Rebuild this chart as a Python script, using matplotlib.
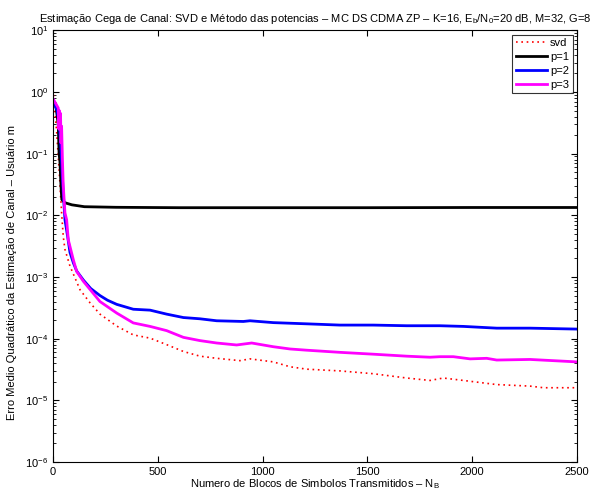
import matplotlib
matplotlib.use('Agg')
from matplotlib import pyplot as plt
import numpy as np

plt.rcParams['font.family'] = ['Liberation Sans', 'DejaVu Sans']
plt.rcParams['mathtext.fontset'] = 'custom'
plt.rcParams['mathtext.rm'] = 'Liberation Sans'
plt.rcParams['mathtext.default'] = 'regular'
plt.rcParams['font.size'] = 8

# curvas (NB, erro quadratico medio)
svd_x = [0, 10, 18, 30, 41, 49, 57, 81, 129, 177, 224, 304, 383, 463, 542, 622, 701,
         781, 892, 940, 1051, 1131, 1210, 1369, 1528, 1687, 1799, 1862, 1958, 2117,
         2276, 2340, 2500]
svd_y = [1.1, 0.46, 0.21, 0.05, 0.011, 0.0045, 0.0028, 0.0015, 0.00062, 0.00038,
         0.00025, 0.00016, 0.000115, 0.000102, 0.00008, 0.000062, 0.000052, 0.000048,
         0.000044, 0.000047, 0.000042, 0.000035, 0.000032, 0.00003, 0.000027,
         0.000023, 0.000021, 0.000023, 0.000021, 0.000018, 0.000017, 0.000016, 0.000016]

p1_x = [0, 15, 25, 29, 33, 38, 42, 57, 90, 150, 300, 600, 1000, 1500, 2000, 2500]
p1_y = [0.75, 0.55, 0.3, 0.1, 0.075, 0.03, 0.018, 0.016, 0.0148, 0.0138, 0.0135,
        0.0133, 0.0133, 0.0133, 0.0134, 0.0134]

p2_x = [0, 20, 30, 38, 45, 50, 57, 70, 81, 97, 113, 145, 180, 224, 260, 304, 383,
        463, 542, 622, 701, 781, 908, 940, 1051, 1210, 1369, 1528, 1687, 1846, 1958,
        2117, 2276, 2500]
p2_y = [0.72, 0.5, 0.3, 0.12, 0.04, 0.02, 0.0085, 0.0045, 0.0025, 0.0017, 0.00125,
        0.00089, 0.00065, 0.0005, 0.00042, 0.00036, 0.0003, 0.00029, 0.00025, 0.00022,
        0.00021, 0.000195, 0.00019, 0.000195, 0.000182, 0.000174, 0.000166, 0.000166,
        0.000162, 0.000162, 0.000158, 0.000148, 0.000148, 0.000143]

p3_x = [0, 25, 28, 30, 33, 36, 38, 41, 45, 49, 57, 65, 73, 97, 113, 145, 224, 304,
        383, 463, 542, 622, 701, 781, 876, 948, 1051, 1131, 1210, 1369, 1528, 1687,
        1799, 1846, 1910, 1990, 2069, 2117, 2276, 2500]
p3_y = [0.78, 0.55, 0.25, 0.5, 0.3, 0.45, 0.15, 0.28, 0.08, 0.03, 0.011, 0.0085,
        0.004, 0.0019, 0.00123, 0.00085, 0.0004, 0.00026, 0.00018, 0.000158, 0.000135,
        0.000105, 0.000093, 0.000085, 0.000079, 0.000085, 0.000074, 0.000068, 0.000065,
        0.00006, 0.000056, 0.000052, 0.00005, 0.000051, 0.000051, 0.000047, 0.000048,
        0.000045, 0.000046, 0.000042]

fig = plt.figure(figsize=(6.03, 4.95), dpi=100)
ax = fig.add_axes([0.0879, 0.0667, 0.869, 0.872])

ax.semilogy(svd_x, svd_y, linestyle=(0, (1, 2.2)), color='red', lw=1.2, label='svd')
ax.semilogy(p1_x, p1_y, '-', color='black', lw=2, label='p=1')
ax.semilogy(p2_x, p2_y, '-', color='blue', lw=2, label='p=2')
ax.semilogy(p3_x, p3_y, '-', color='magenta', lw=2, label='p=3')

ax.set_xlim(0, 2500)
ax.set_ylim(1e-6, 1e1)
ax.set_xticks([0, 500, 1000, 1500, 2000, 2500])
ax.tick_params(which='both', direction='in', top=True, right=True)
ax.tick_params(which='major', length=4)
ax.tick_params(which='minor', length=2)

ax.set_title('Estimação Cega de Canal: SVD e Método das potencias – MC DS CDMA ZP – '
             'K=16, E$_b$/N$_0$=20 dB, M=32, G=8', fontsize=8)
ax.set_xlabel('Numero de Blocos de Simbolos Transmitidos – N$_B$', labelpad=0)
ax.set_ylabel('Erro Medio Quadrático da Estimação de Canal – Usuário m')
ax.yaxis.set_label_coords(-0.068, 0.44)

leg = ax.legend(loc='upper right', fancybox=False, edgecolor='black',
                handlelength=2.8, borderaxespad=0.4, labelspacing=0.35,
                handletextpad=0.3, borderpad=0.3)
leg.get_frame().set_linewidth(0.8)

fig.savefig('out.png', dpi=100)
